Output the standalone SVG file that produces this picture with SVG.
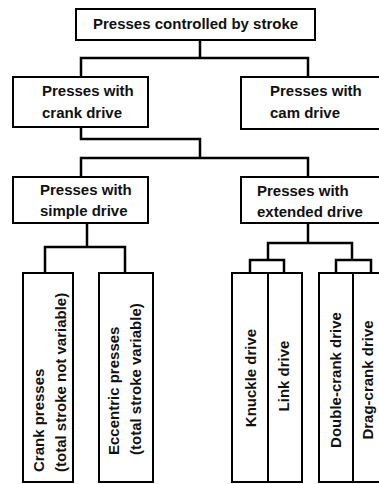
<svg xmlns="http://www.w3.org/2000/svg" width="379" height="484" viewBox="0 0 379 484">
<style>
.box{fill:#fff;stroke:#000;stroke-width:2}
.t{font-family:"Liberation Sans",Arial,sans-serif;font-weight:bold;font-size:15px;fill:#111}
.c{fill:none;stroke:#000;stroke-width:2.5;stroke-linejoin:miter}
</style>
<rect width="379" height="484" fill="#fff"/>
<g id="connectors">
<path class="c" d="M200,40 V58 M81,77 V58 H308 V77"/>
<path class="c" d="M81,127 V139 H200 V158 M81,177 V158 H308 V177"/>
<path class="c" d="M87,223 V247 M45,273 V247 H125 V273"/>
<path class="c" d="M308,223 V243 M268,260 V243 H352 V260"/>
<path class="c" d="M250,273 V260 H284 V273 M336,273 V260 H371 V273"/>
</g>
<g id="n-top">
<rect class="box" x="76" y="9" width="239" height="31"/>
<text class="t" x="93" y="29">Presses controlled by stroke</text>
</g>
<g id="n-crank">
<rect class="box" x="13" y="77" width="135" height="50"/>
<text class="t" x="42" y="96">Presses with</text>
<text class="t" x="42" y="118">crank drive</text>
</g>
<g id="n-cam">
<rect class="box" x="241" y="77" width="150" height="52"/>
<text class="t" x="270" y="96">Presses with</text>
<text class="t" x="270" y="118">cam drive</text>
</g>
<g id="n-simple">
<rect class="box" x="13" y="177" width="135" height="46"/>
<text class="t" x="40" y="195">Presses with</text>
<text class="t" x="40" y="216">simple drive</text>
</g>
<g id="n-extended">
<rect class="box" x="241" y="177" width="150" height="46"/>
<text class="t" x="257" y="196">Presses with</text>
<text class="t" x="257" y="217">extended drive</text>
</g>
<g id="n-crankpresses">
<rect class="box" x="23" y="273" width="50" height="209"/>
<text class="t" transform="translate(44,472) rotate(-90)">Crank presses</text>
<text class="t" transform="translate(66,472) rotate(-90)">(total stroke not variable)</text>
</g>
<g id="n-eccentric">
<rect class="box" x="99" y="273" width="54" height="209"/>
<text class="t" transform="translate(119,455) rotate(-90)">Eccentric presses</text>
<text class="t" transform="translate(141,455) rotate(-90)">(total stroke variable)</text>
</g>
<g id="n-knuckle">
<rect class="box" x="232" y="273" width="36" height="209"/>
<text class="t" text-anchor="middle" transform="translate(256,378) rotate(-90)">Knuckle drive</text>
</g>
<g id="n-link">
<rect class="box" x="268" y="273" width="34" height="209"/>
<text class="t" text-anchor="middle" transform="translate(289,376) rotate(-90)">Link drive</text>
</g>
<g id="n-double">
<rect class="box" x="319" y="273" width="34" height="209"/>
<text class="t" text-anchor="middle" transform="translate(341,380) rotate(-90)">Double-crank drive</text>
</g>
<g id="n-drag">
<rect class="box" x="353" y="273" width="36" height="209"/>
<text class="t" text-anchor="middle" transform="translate(373,380) rotate(-90)">Drag-crank drive</text>
</g>
</svg>
